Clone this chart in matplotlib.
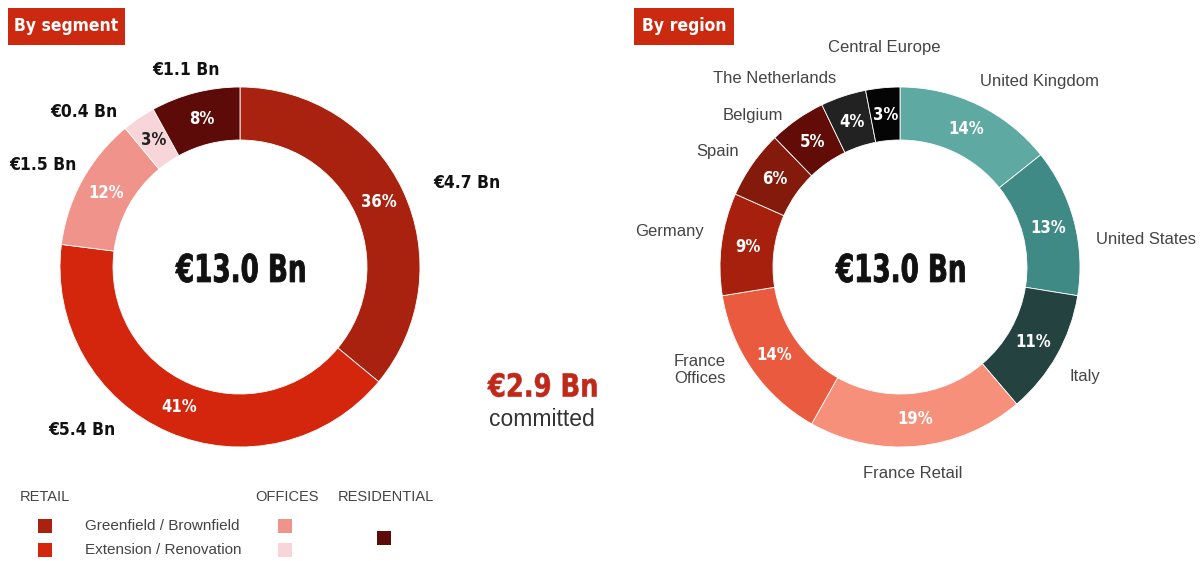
import numpy as np
import matplotlib.pyplot as plt
from matplotlib.patches import Rectangle, PathPatch
from matplotlib.textpath import TextPath
from matplotlib.font_manager import FontProperties
from matplotlib.transforms import Affine2D

W, H = 1203, 561

# left donut: by segment
seg_names = ['Greenfield / Brownfield', 'Extension / Renovation', 'Offices', 'Offices (other)', 'Residential']
seg_pct = [36, 41, 12, 3, 8]
seg_value = ['€4.7 Bn', '€5.4 Bn', '€1.5 Bn', '€0.4 Bn', '€1.1 Bn']
seg_colors = ['#a8220f', '#d4260c', '#f0938a', '#f7d5d8', '#5c0b08']

# right donut: by region
reg_names = ['United Kingdom', 'United States', 'Italy', 'France Retail', 'France\nOffices',
             'Germany', 'Spain', 'Belgium', 'The Netherlands', 'Central Europe']
reg_pct = [14, 13, 11, 19, 14, 9, 6, 5, 4, 3]
reg_colors = ['#5fa9a3', '#3f8a85', '#24423f', '#f7907a', '#ea5a3e',
              '#a7200e', '#841a0c', '#620c08', '#222222', '#050505']

total = '€13.0 Bn'
committed = '€2.9 Bn'

bold = dict(family=['DejaVu Sans'], weight='bold', stretch='condensed')
light = dict(family=['Liberation Sans', 'DejaVu Sans'], color='#444444')
bold_fp = FontProperties(family='DejaVu Sans', weight='bold', stretch='condensed')

fig = plt.figure(figsize=(W / 100, H / 100), dpi=100)
ax = fig.add_axes([0, 0, 1, 1])


def narrow_text(x, y, s, cap, width, color, stroke=0.6):
    # big headline numbers, squeezed horizontally like the original's condensed font
    p = TextPath((0, 0), s, size=100, prop=bold_fp)
    ext = p.get_extents()
    sy = cap / ext.height
    sx = width / ext.width
    tr = (Affine2D().translate(-(ext.x0 + ext.x1) / 2, -(ext.y0 + ext.y1) / 2)
          .scale(sx, sy).translate(x, y))
    ax.add_patch(PathPatch(tr.transform_path(p), facecolor=color, edgecolor=color,
                           lw=stroke, joinstyle='miter'))


def donut(vals, colors, cx, cy):
    wedges, _ = ax.pie(vals, colors=colors, startangle=90, counterclock=False,
                       radius=180, center=(cx, H - cy),
                       wedgeprops=dict(width=53, edgecolor='white', linewidth=0.6))
    return wedges


def pct_labels(wedges, vals, cx, cy, dark=()):
    for i, (w, v) in enumerate(zip(wedges, vals)):
        a = np.deg2rad((w.theta1 + w.theta2) / 2)
        r = 180 * 0.85
        ax.text(cx + r * np.cos(a), H - cy + r * np.sin(a), f'{v}%',
                ha='center', va='center', fontsize=12,
                color='#222222' if i in dark else 'white', **bold)


# segment donut
lw = donut(seg_pct, seg_colors, 240, 267)
pct_labels(lw, seg_pct, 240, 267, dark=(3,))
seg_pos = [(467, 183), (82, 430), (43, 165), (84, 112), (186, 70)]
for txt, (x, y) in zip(seg_value, seg_pos):
    ax.text(x, H - y, txt, ha='center', va='center', fontsize=12.5, color='#111111', **bold)
narrow_text(240, H - 268, total, 29, 129, '#111111')

narrow_text(542, H - 385, committed, 24, 109, '#c0281a', stroke=0.4)
ax.text(542, H - 420, 'committed', ha='center', va='center', fontsize=16.5,
        family=['Liberation Sans', 'DejaVu Sans'], color='#333333')

# region donut
rw = donut(reg_pct, reg_colors, 900, 267)
pct_labels(rw, reg_pct, 900, 267)
reg_pos = [(1040, 81), (1146, 239), (1085, 377), (913, 473), (700, 370),
           (669, 231), (718, 151), (753, 115), (775, 78), (884, 47)]
for txt, (x, y) in zip(reg_names, reg_pos):
    ax.text(x, H - y, txt, ha='center', va='center', fontsize=12, linespacing=1.1, **light)
narrow_text(900, H - 268, total, 29, 129, '#111111')

# title boxes
for x0, x1, t in [(8, 125, 'By segment'), (634, 734, 'By region')]:
    ax.add_patch(Rectangle((x0, H - 45), x1 - x0, 37, color='#cc2a10', lw=0))
    ax.text((x0 + x1) / 2, H - 26, t, ha='center', va='center', fontsize=12.5, color='white', **bold)

# legend
for x, t in [(20, 'RETAIL'), (255, 'OFFICES'), (338, 'RESIDENTIAL')]:
    ax.text(x, H - 497, t, ha='left', va='center', fontsize=10.5, **light)
sw = 14
for (x, y), c in zip([(45, 526), (45, 550), (285, 526), (285, 550), (384, 538)], seg_colors):
    ax.add_patch(Rectangle((x - sw / 2, H - y - sw / 2), sw, sw, color=c, lw=0))
ax.text(85, H - 526, seg_names[0], ha='left', va='center', fontsize=11, **light)
ax.text(85, H - 550, seg_names[1], ha='left', va='center', fontsize=11, **light)

ax.set_xlim(0, W)
ax.set_ylim(0, H)
ax.set_aspect('equal')
ax.axis('off')

fig.savefig('out.png', dpi=100, facecolor='white')
